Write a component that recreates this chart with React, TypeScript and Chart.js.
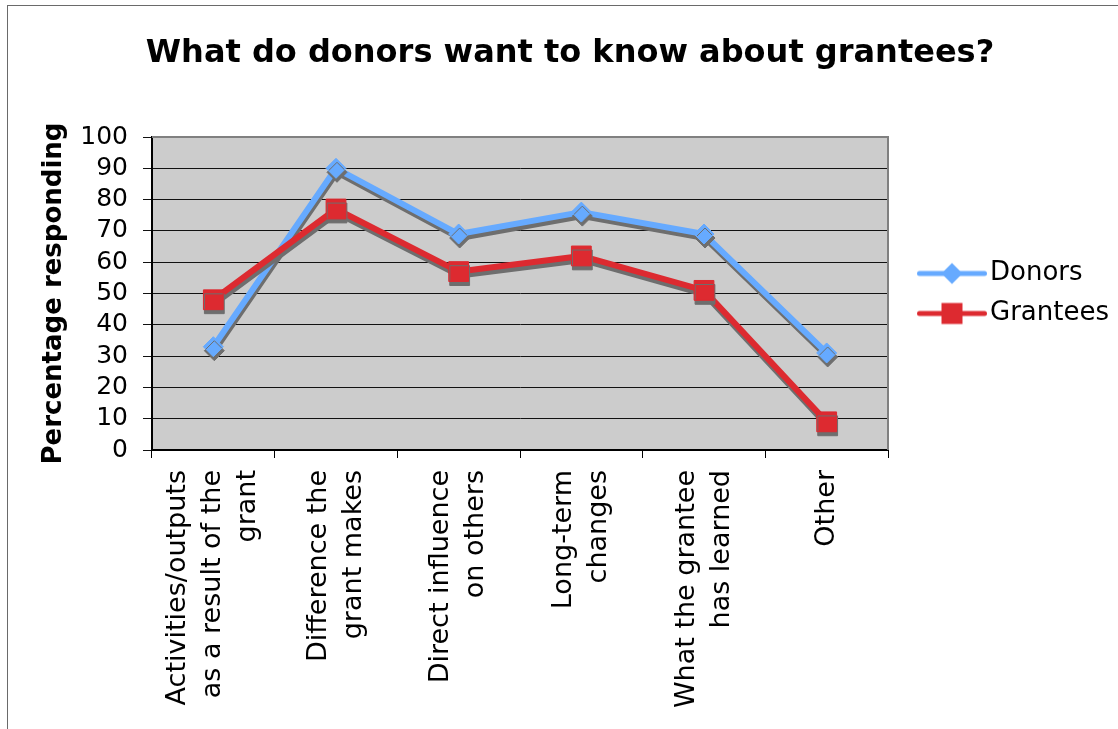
import React, { useEffect, useRef } from 'react';
import { Chart, registerables } from 'chart.js';

Chart.register(...registerables);
Chart.defaults.font.family = "'DejaVu Sans', Verdana, sans-serif";
Chart.defaults.color = '#000';

// ---- data ----
const categories: string[][] = [
  ['Activities/outputs', 'as a result of the', 'grant'],
  ['Difference the', 'grant makes'],
  ['Direct influence', 'on others'],
  ['Long-term', 'changes'],
  ['What the grantee', 'has learned'],
  ['Other'],
];
const donors: number[] = [33, 90, 69, 76, 69, 31];
const grantees: number[] = [48, 77, 57, 62, 51, 9];
const seriesNames: string[] = ['Donors', 'Grantees'];
const chartTitle = 'What do donors want to know about grantees?';
const yAxisTitle = 'Percentage responding';
const yMin = 0;
const yMax = 100;
const yStep = 10;

// ---- styles ----
const BLUE = '#66aaff';
const RED = '#dd2a30';
const PLOT_BG = '#cccccc';
const W = 1118;
const H = 729;

function makeLegendImage(color: string, marker: 'diamond' | 'square'): HTMLCanvasElement {
  const c = document.createElement('canvas');
  c.width = 95;
  c.height = 26;
  const g = c.getContext('2d')!;
  g.strokeStyle = color;
  g.fillStyle = color;
  g.lineWidth = 5;
  g.lineCap = 'round';
  g.beginPath();
  g.moveTo(27.5, 13);
  g.lineTo(92.5, 13);
  g.stroke();
  const cx = 60;
  const cy = 13;
  g.beginPath();
  if (marker === 'diamond') {
    g.moveTo(cx - 10.5, cy);
    g.lineTo(cx, cy - 10.5);
    g.lineTo(cx + 10.5, cy);
    g.lineTo(cx, cy + 10.5);
    g.closePath();
  } else {
    g.rect(cx - 10.5, cy - 10.5, 21, 21);
  }
  g.fill();
  return c;
}

const plotFramePlugin = {
  id: 'plotFrame',
  beforeDraw(chart: any) {
    const { ctx, chartArea } = chart;
    if (!chartArea) return;
    ctx.save();
    ctx.fillStyle = PLOT_BG;
    ctx.fillRect(chartArea.left, chartArea.top, chartArea.right - chartArea.left, chartArea.bottom - chartArea.top);
    ctx.restore();
  },
  beforeDatasetsDraw(chart: any) {
    const { ctx, chartArea } = chart;
    ctx.save();
    ctx.strokeStyle = '#808080';
    ctx.lineWidth = 2;
    ctx.beginPath();
    ctx.moveTo(chartArea.left, chartArea.top);
    ctx.lineTo(chartArea.right, chartArea.top);
    ctx.lineTo(chartArea.right, chartArea.bottom);
    ctx.stroke();
    ctx.restore();
  },
};

const shadowPlugin = {
  id: 'lineShadow',
  beforeDatasetDraw(chart: any) {
    const ctx = chart.ctx;
    ctx.save();
    ctx.shadowColor = 'rgba(110,110,110,1)';
    ctx.shadowOffsetX = 1;
    ctx.shadowOffsetY = 4;
    ctx.shadowBlur = 0;
  },
  afterDatasetDraw(chart: any) {
    chart.ctx.restore();
  },
};

const xLabelPlugin = {
  id: 'xLabels',
  afterDraw(chart: any) {
    const xs = chart.scales.x;
    const ctx = chart.ctx;
    const labels = chart.data.labels as string[][];
    const lh = 35;
    ctx.save();
    ctx.font = "27px 'DejaVu Sans', Verdana, sans-serif";
    ctx.fillStyle = '#000';
    ctx.textAlign = 'right';
    ctx.textBaseline = 'middle';
    labels.forEach((lines, i) => {
      const px = xs.getPixelForValue(i);
      const n = lines.length;
      lines.forEach((line, j) => {
        const cx = px + (j - (n - 1) / 2) * lh;
        ctx.save();
        ctx.translate(cx, xs.top + 20);
        ctx.rotate(-Math.PI / 2);
        ctx.fillText(line, 0, 0);
        ctx.restore();
      });
    });
    ctx.restore();
  },
};

export default function App() {
  const ref = useRef<HTMLCanvasElement | null>(null);

  useEffect(() => {
    if (!ref.current) return;
    const legendImgs = [makeLegendImage(BLUE, 'diamond'), makeLegendImage(RED, 'square')];
    const chart = new Chart(ref.current, {
      type: 'line',
      data: {
        labels: categories as any,
        datasets: [
          {
            label: seriesNames[0],
            data: donors,
            borderColor: BLUE,
            backgroundColor: BLUE,
            borderWidth: 6,
            borderJoinStyle: 'round',
            pointStyle: 'rectRot',
            pointRadius: 10,
            pointBorderWidth: 1,
            pointBackgroundColor: BLUE,
            pointBorderColor: BLUE,
            tension: 0,
            order: 1,
          },
          {
            label: seriesNames[1],
            data: grantees,
            borderColor: RED,
            backgroundColor: RED,
            borderWidth: 6,
            borderJoinStyle: 'round',
            pointStyle: 'rect',
            pointRadius: 14,
            pointBorderWidth: 1,
            pointBackgroundColor: RED,
            pointBorderColor: RED,
            tension: 0,
            order: 0,
          },
        ],
      },
      options: {
        responsive: false,
        animation: false,
        devicePixelRatio: 1,
        events: [],
        layout: { padding: { left: 31, right: 9, top: 0, bottom: 0 } },
        plugins: {
          title: {
            display: true,
            text: chartTitle,
            color: '#000',
            font: { size: 32, weight: 'bold' },
            padding: { top: 34, bottom: 64.6 },
          },
          legend: {
            display: true,
            position: 'right',
            fullSize: false,
            maxWidth: 221,
            labels: {
              usePointStyle: true,
              pointStyleWidth: 75,
              padding: 14,
              color: '#000',
              font: { size: 26 },
              generateLabels: () =>
                seriesNames.map((name, i) => ({
                  text: name,
                  fillStyle: i === 0 ? BLUE : RED,
                  strokeStyle: i === 0 ? BLUE : RED,
                  lineWidth: 0,
                  hidden: false,
                  pointStyle: legendImgs[i] as any,
                  datasetIndex: i,
                })),
            },
          },
          tooltip: { enabled: false },
        },
        scales: {
          x: {
            type: 'category',
            offset: true,
            grid: {
              offset: true,
              drawOnChartArea: false,
              drawTicks: true,
              tickLength: 8,
              color: '#000',
              lineWidth: 1,
            },
            border: { display: true, color: '#000', width: 2 },
            ticks: { display: false, autoSkip: false },
            afterFit: (scale: any) => {
              scale.height = 279;
            },
          },
          y: {
            min: yMin,
            max: yMax,
            ticks: {
              stepSize: yStep,
              autoSkip: false,
              font: { size: 25 },
              color: '#000',
              padding: 15,
            },
            grid: { color: '#111', lineWidth: 1, tickLength: 9 },
            border: { display: true, color: '#000', width: 2 },
            title: {
              display: true,
              text: yAxisTitle,
              color: '#000',
              font: { size: 26, weight: 'bold' },
              padding: { top: 8, bottom: 0 },
            },
            afterFit: (scale: any) => {
              scale.width = 121;
            },
          },
        },
      },
      plugins: [plotFramePlugin, shadowPlugin, xLabelPlugin],
    });
    return () => chart.destroy();
  }, []);

  return (
    <div style={{ position: 'fixed', left: 0, top: 0, width: W, height: H, overflow: 'hidden', background: '#fff' }}>
      <canvas ref={ref} width={W} height={H} style={{ width: W, height: H, display: 'block' }} />
      <div
        style={{
          position: 'absolute',
          left: 7,
          top: 5,
          width: 2000,
          height: 2000,
          borderLeft: '1px solid #6a6a6a',
          borderTop: '1px solid #6a6a6a',
          pointerEvents: 'none',
        }}
      />
    </div>
  );
}
